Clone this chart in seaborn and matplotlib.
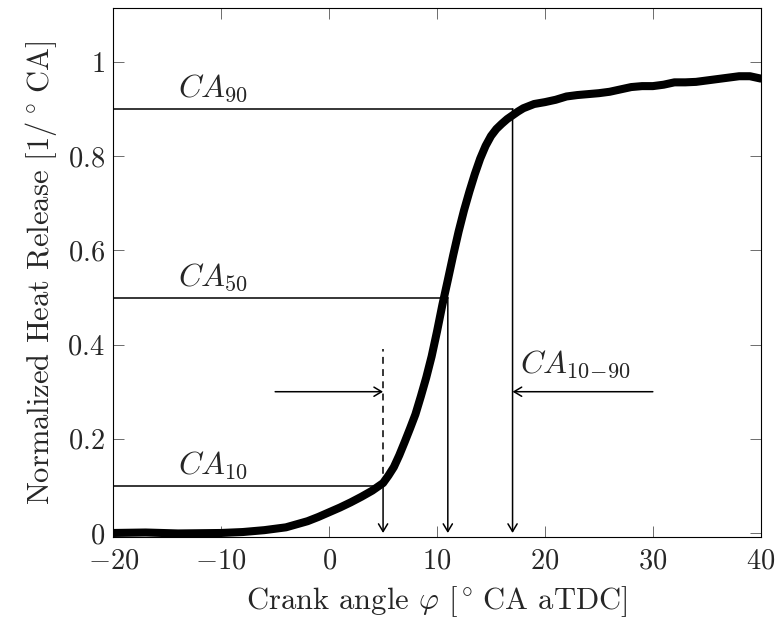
import matplotlib
matplotlib.use("Agg")
import matplotlib.pyplot as plt
import seaborn as sns
import pandas as pd
from matplotlib.ticker import FuncFormatter

# ---- data ----
crank_angle = [-20, -17, -14, -10, -8, -6, -4, -2, -1, 0, 1, 2, 3, 4,
               5, 5.5, 6, 6.5, 7, 7.5, 8, 8.5, 9, 9.5, 10, 10.5, 11, 11.5, 12, 12.5,
               13, 13.5, 14, 14.5, 15, 15.5, 16, 16.5, 17, 17.5, 18, 19, 20, 21, 22,
               23, 24, 25, 26, 27, 28, 29, 30, 31, 32, 33, 34, 35, 36, 37, 38, 39, 40]
heat_release = [0.0, 0.001, -0.001, 0.0, 0.002, 0.006, 0.012, 0.025, 0.034, 0.044,
                0.054, 0.065, 0.077, 0.09,
                0.106, 0.122, 0.14, 0.165, 0.193, 0.222, 0.252, 0.29, 0.33, 0.375,
                0.428, 0.485, 0.537, 0.59, 0.64, 0.685, 0.725, 0.762, 0.795, 0.822,
                0.843, 0.858, 0.869, 0.879, 0.887, 0.895, 0.902, 0.911, 0.915, 0.92,
                0.927, 0.93, 0.932, 0.934, 0.937, 0.942, 0.947, 0.949, 0.949, 0.952,
                0.957, 0.957, 0.958, 0.961, 0.964, 0.967, 0.970, 0.970, 0.965]

ca_names = ["10", "50", "90"]
ca_angles = [5, 11, 17]
ca_levels = [0.1, 0.5, 0.9]

x_ticks = [-20, -10, 0, 10, 20, 30, 40]
y_ticks = [0, 0.2, 0.4, 0.6, 0.8, 1.0]

sns.set_style("ticks")
plt.rcParams["font.family"] = ["serif"]
plt.rcParams["font.serif"] = ["cmr10", "DejaVu Serif"]
plt.rcParams["mathtext.fontset"] = "cm"
plt.rcParams["axes.formatter.use_mathtext"] = True
plt.rcParams["axes.unicode_minus"] = True

fig = plt.figure(figsize=(7.75, 6.21), dpi=100)
ax = fig.add_axes([0.1462, 0.1353, 0.8354, 0.8519])

df = pd.DataFrame({"angle": crank_angle, "hr": heat_release})
sns.lineplot(data=df, x="angle", y="hr", ax=ax, color="black", linewidth=5.8,
             solid_capstyle="round", solid_joinstyle="round", zorder=3)

ax.set_xlim(-20, 40)
ax.set_ylim(-0.0085, 1.115)

lw = 1.1
arrow_kw = dict(arrowstyle="->,head_length=0.55,head_width=0.33", color="black",
                lw=lw, shrinkA=0, shrinkB=0, mutation_scale=10)
for name, a, lvl in zip(ca_names, ca_angles, ca_levels):
    ax.plot([-20, a], [lvl, lvl], color="black", lw=lw, zorder=2)
    ax.annotate("", xy=(a, 0), xytext=(a, lvl), arrowprops=arrow_kw, zorder=2)
    ax.text(-10.75, lvl + 0.026, r"$CA_{%s}$" % name, ha="center", va="baseline",
            fontsize=23)

# burn duration markers
ax.plot([ca_angles[0], ca_angles[0]], [ca_levels[0], 0.39], color="black", lw=lw,
        dashes=(4.5, 3.5), zorder=2)
ax.annotate("", xy=(ca_angles[0], 0.3), xytext=(-5, 0.3), arrowprops=arrow_kw)
ax.annotate("", xy=(ca_angles[2], 0.3), xytext=(30, 0.3), arrowprops=arrow_kw)
ax.text(17.7, 0.34, r"$CA_{10\!-\!90}$", ha="left", va="baseline", fontsize=23)

ax.set_xticks(x_ticks)
ax.set_yticks(y_ticks)
ax.xaxis.set_major_formatter(FuncFormatter(lambda v, p: r"$%g$" % v))
ax.yaxis.set_major_formatter(FuncFormatter(lambda v, p: r"$%g$" % v))
ax.tick_params(direction="in", top=True, right=True, length=8, width=0.6,
               color="#555555", labelsize=20.5)
ax.tick_params(axis="x", pad=8)
ax.tick_params(axis="y", pad=6)
for s in ax.spines.values():
    s.set_linewidth(0.8)
    s.set_color("black")

ax.set_xlabel(r"Crank angle $\varphi$ $[^\circ\,$CA aTDC]", fontsize=22, labelpad=7)
ax.set_ylabel(r"Normalized Heat Release [1$/^\circ\,$CA]", fontsize=22, labelpad=6)

fig.savefig("out.png", dpi=100)
